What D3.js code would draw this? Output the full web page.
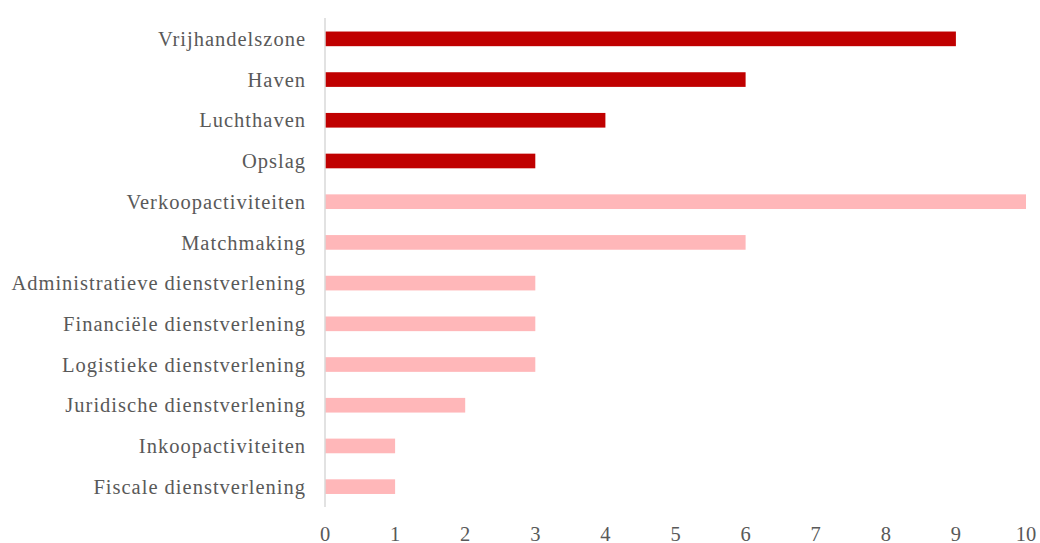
<!DOCTYPE html>
<html><head><meta charset="utf-8">
<script src="https://cdn.jsdelivr.net/npm/d3@7"></script>
<style>body{margin:0;background:#fff}svg{display:block}</style>
</head><body><svg id="c" width="1040" height="543"></svg>
<script>
const categories = ["Vrijhandelszone","Haven","Luchthaven","Opslag","Verkoopactiviteiten","Matchmaking","Administratieve dienstverlening","Financiële dienstverlening","Logistieke dienstverlening","Juridische dienstverlening","Inkoopactiviteiten","Fiscale dienstverlening"];
const values = [9,6,4,3,10,6,3,3,3,2,1,1];
const groups = ["dark","dark","dark","dark","light","light","light","light","light","light","light","light"];
const tickValues = [0,1,2,3,4,5,6,7,8,9,10];
const colors = {dark:"#C00000", light:"#FFB7B9"};

const svg = d3.select("#c");
const x = d3.scaleLinear().domain([0,10]).range([325,1026]);
const y = d3.scaleBand().domain(categories).range([18.5,507]).paddingInner(0.64).paddingOuter(0.32);
const font = "'Liberation Serif', serif";

svg.selectAll("rect.bar").data(categories).join("rect")
  .attr("class","bar")
  .attr("x", x(0))
  .attr("y", d => y(d))
  .attr("width", (d,i) => x(values[i]) - x(0))
  .attr("height", y.bandwidth())
  .attr("fill", (d,i) => colors[groups[i]]);

svg.append("line").attr("x1",x(0)).attr("x2",x(0)).attr("y1",18).attr("y2",507)
  .attr("stroke","#d9d9d9").attr("stroke-width",1.5);

svg.selectAll("text.cat").data(categories).join("text")
  .attr("class","cat")
  .attr("x", 306).attr("y", d => y(d) + y.bandwidth()/2)
  .attr("dy","0.35em").attr("text-anchor","end")
  .attr("font-family",font).attr("font-size",20.5).attr("letter-spacing",1.0).attr("fill","#595959")
  .text(d => d);

svg.selectAll("text.tick").data(tickValues).join("text")
  .attr("class","tick")
  .attr("x", d => x(d)).attr("y", 540.5)
  .attr("text-anchor","middle")
  .attr("font-family",font).attr("font-size",20.5).attr("fill","#595959")
  .text(d => d);
</script></body></html>
